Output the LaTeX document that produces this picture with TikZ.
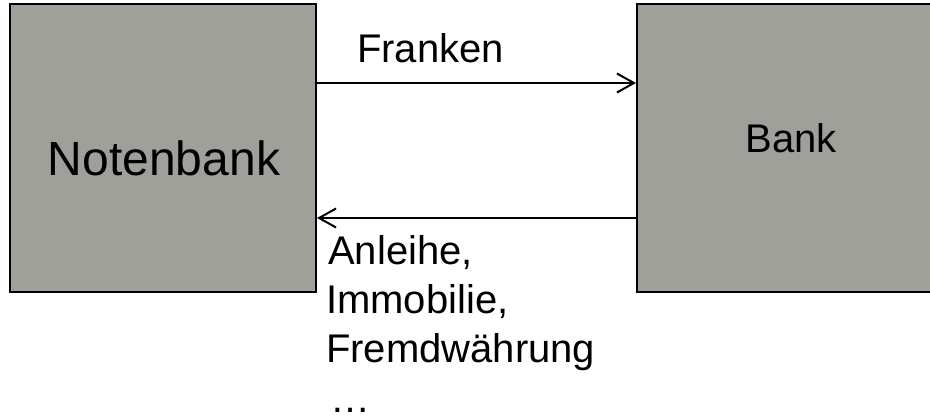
\documentclass[tikz,border=0pt]{standalone}
\usepackage{fontspec}
\setmainfont{Liberation Sans}
\usetikzlibrary{arrows.meta}
\definecolor{boxgray}{RGB}{160,160,154}
\begin{document}
\begin{tikzpicture}[x=1pt,y=-1pt,
  blockbox/.style={draw=black, line width=2pt, fill=boxgray, rectangle, inner sep=0pt},
  lbl/.style={inner sep=0pt, anchor=base west, font=\fontsize{40}{48}\selectfont},
  flow/.style={line width=2pt, -{Straight Barb[length=17pt,width=19pt,line width=2pt]}}]
\useasboundingbox (0,0) rectangle (930,417);
\fill[white] (0,0) rectangle (930,417);
\node[blockbox, minimum width=306pt, minimum height=287pt] (nb) at (163,148) {};
\node[blockbox, minimum width=308pt, minimum height=287pt] (bk) at (791,148) {};
\node[inner sep=0pt, anchor=base, font=\fontsize{48}{56}\selectfont] (nbt) at (164,176) {Notenbank};
\node[inner sep=0pt, anchor=base, font=\fontsize{40}{48}\selectfont] (bkt) at (791,153) {Bank};
\draw[flow] ([yshift=65pt]nb.east) -- ([yshift=65pt]bk.west);
\draw[flow] ([yshift=-70pt]bk.west) -- ([yshift=-70pt]nb.east);
\node[lbl] (fr) at (357,63) {Franken};
\node[lbl] (l1) at (328,265) {Anleihe,};
\node[lbl] (l2) at (326,313) {Immobilie,};
\node[lbl] (l3) at (326,362) {Fremdwährung};
\node[lbl] (l4) at (330,412) {…};
\end{tikzpicture}
\end{document}
